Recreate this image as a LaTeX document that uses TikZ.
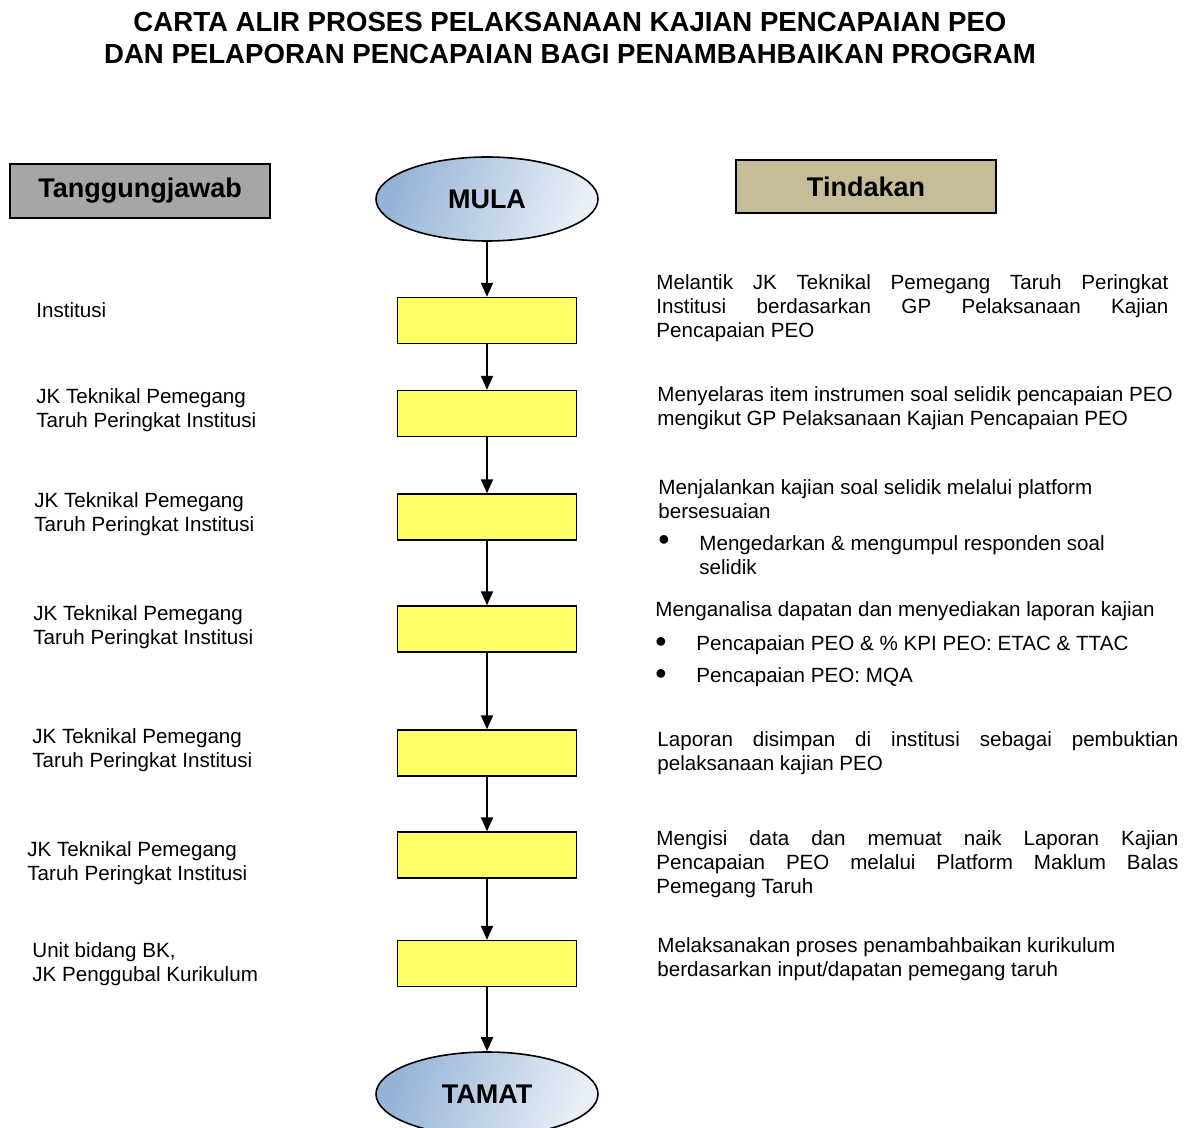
\documentclass[tikz,border=0pt]{standalone}
\usepackage{fontspec}
\setmainfont{Liberation Sans}
\usetikzlibrary{shapes.geometric,arrows.meta}
\definecolor{kuning}{RGB}{255,255,102}
\definecolor{kelabu}{RGB}{166,166,166}
\definecolor{pasir}{RGB}{196,189,151}
\definecolor{birugelap}{RGB}{149,179,215}
\definecolor{birucerah}{RGB}{234,239,247}
\begin{document}
\begin{tikzpicture}[x=0.5pt, y=-0.5pt,
    langkah/.style={draw, fill=kuning, line width=0.7pt, minimum width=89.5pt, minimum height=23pt, inner sep=0pt},
    terminal/.style={draw, ellipse, line width=0.8pt, left color=birugelap, right color=birucerah, shading angle=70, minimum width=111pt, minimum height=42pt, inner sep=0pt, font=\fontsize{13.5}{16}\selectfont\bfseries},
    tajuk/.style={draw, line width=0.8pt, minimum width=130pt, inner sep=0pt, font=\fontsize{13.5}{16}\selectfont\bfseries},
    teks/.style={anchor=west, align=left, inner sep=0pt, font=\fontsize{10.3}{12}\selectfont},
    rata/.style={teks, align=justify},
    titik/.style={inner sep=0pt, font=\fontsize{16}{12}\selectfont},
    anakpanah/.style={-{Triangle[length=7pt, width=6pt]}, line width=1pt}]
    \useasboundingbox (0,0) rectangle (1188,1128);

    % Tajuk carta
    \node[font=\fontsize{13.8}{16}\selectfont\bfseries, align=center] (judul) at (570,38)
        {CARTA ALIR PROSES PELAKSANAAN KAJIAN PENCAPAIAN PEO\\DAN PELAPORAN PENCAPAIAN BAGI PENAMBAHBAIKAN PROGRAM};

    % Kepala lajur
    \node[tajuk, fill=kelabu, minimum height=27pt] (tanggung) at (140,191) {Tanggungjawab};
    \node[tajuk, fill=pasir, minimum height=26.5pt] (tindakan) at (866,186.5) {Tindakan};

    % Aliran tengah
    \node[terminal] (mula) at (487,199) {MULA};
    \node[langkah] (l1) at (487,320.5) {};
    \node[langkah] (l2) at (487,413.5) {};
    \node[langkah] (l3) at (487,517) {};
    \node[langkah] (l4) at (487,629) {};
    \node[langkah] (l5) at (487,753) {};
    \node[langkah] (l6) at (487,855) {};
    \node[langkah] (l7) at (487,963.5) {};
    \node[terminal] (tamat) at (487,1094) {TAMAT};

    \draw[anakpanah] (mula) -- (l1);
    \draw[anakpanah] (l1) -- (l2);
    \draw[anakpanah] (l2) -- (l3);
    \draw[anakpanah] (l3) -- (l4);
    \draw[anakpanah] (l4) -- (l5);
    \draw[anakpanah] (l5) -- (l6);
    \draw[anakpanah] (l6) -- (l7);
    \draw[anakpanah] (l7) -- (tamat);

    % Tanggungjawab (kiri)
    \node[teks] (k1) at (36,310) {Institusi};
    \node[teks] (k2) at (36,410) {JK Teknikal Pemegang\\Taruh Peringkat Institusi};
    \node[teks] (k3) at (34,514) {JK Teknikal Pemegang\\Taruh Peringkat Institusi};
    \node[teks] (k4) at (33,627) {JK Teknikal Pemegang\\Taruh Peringkat Institusi};
    \node[teks] (k5) at (32,750) {JK Teknikal Pemegang\\Taruh Peringkat Institusi};
    \node[teks] (k6) at (27,863) {JK Teknikal Pemegang\\Taruh Peringkat Institusi};
    \node[teks] (k7) at (32,964) {Unit bidang BK,\\JK Penggubal Kurikulum};

    % Tindakan (kanan)
    \node[rata, text width=256pt] (t1) at (656,308)
        {Melantik JK Teknikal Pemegang Taruh Peringkat\linebreak Institusi berdasarkan GP Pelaksanaan Kajian\linebreak Pencapaian PEO};
    \node[teks] (t2) at (657,408)
        {Menyelaras item instrumen soal selidik pencapaian PEO\\mengikut GP Pelaksanaan Kajian Pencapaian PEO};
    \node[teks] (t3) at (658,499.5)
        {Menjalankan kajian soal selidik melalui platform\\bersesuaian};
    \node[titik] (b3) at (664,543) {\textbullet};
    \node[teks] (t3a) at (699,555.5) {Mengedarkan \& mengumpul responden soal\\selidik};
    \node[teks] (t4) at (655,611) {Menganalisa dapatan dan menyediakan laporan kajian};
    \node[titik] (b4a) at (661,645) {\textbullet};
    \node[teks] (t4a) at (696,645) {Pencapaian PEO \& \% KPI PEO: ETAC \& TTAC};
    \node[titik] (b4b) at (661,677) {\textbullet};
    \node[teks] (t4b) at (696,677) {Pencapaian PEO: MQA};
    \node[rata, text width=260.5pt] (t5) at (657,753)
        {Laporan disimpan di institusi sebagai pembuktian\linebreak pelaksanaan kajian PEO};
    \node[rata, text width=261pt] (t6) at (656,864)
        {Mengisi data dan memuat naik Laporan Kajian\linebreak Pencapaian PEO melalui Platform Maklum Balas\linebreak Pemegang Taruh};
    \node[teks] (t7) at (657,959)
        {Melaksanakan proses penambahbaikan kurikulum\\berdasarkan input/dapatan pemegang taruh};
\end{tikzpicture}
\end{document}
